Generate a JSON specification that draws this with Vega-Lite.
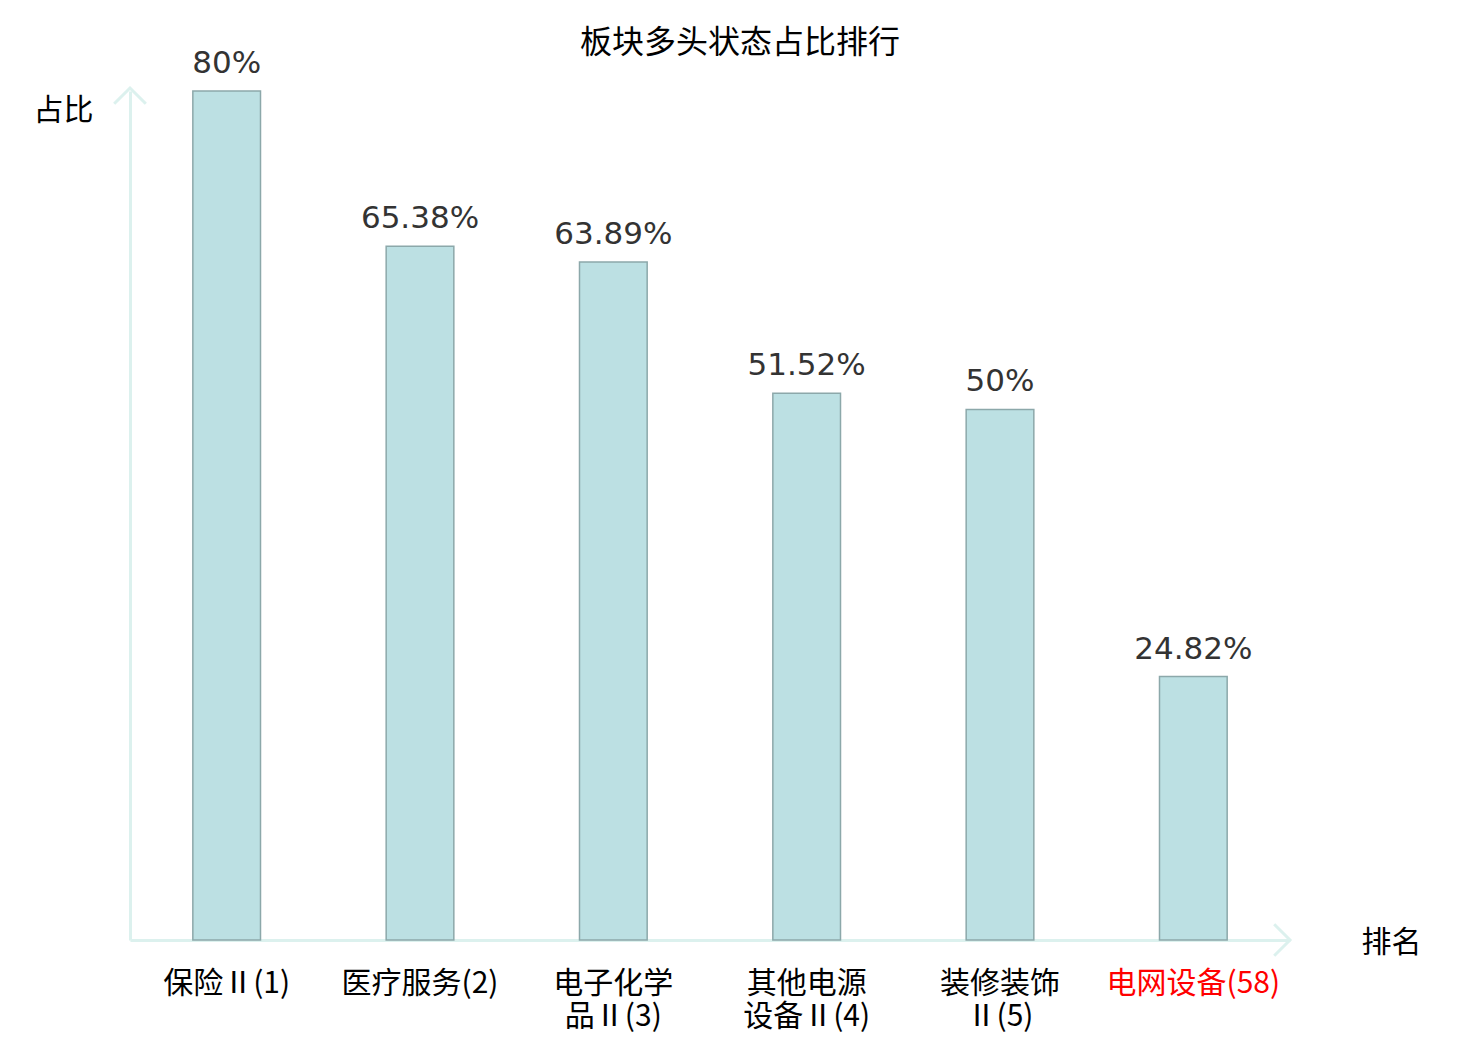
{
  "$schema": "https://vega.github.io/schema/vega-lite/v6.json",
  "autosize": "none",
  "width": 1160,
  "height": 849,
  "padding": {"left": 130, "top": 91, "right": 190, "bottom": 100},
  "background": "white",
  "view": {"stroke": null},
  "title": {
    "text": "板块多头状态占比排行",
    "font": "Noto Sans CJK SC",
    "fontSize": 32,
    "fontWeight": "normal",
    "color": "#000000",
    "anchor": "middle",
    "frame": "group",
    "dx": 30,
    "dy": 44,
    "offset": 32
  },
  "data": {
    "values": [
      {"name": "保险Ⅱ(1)", "ratio": 80, "text": "80%"},
      {"name": "医疗服务(2)", "ratio": 65.38, "text": "65.38%"},
      {"name": "电子化学品Ⅱ(3)", "ratio": 63.89, "text": "63.89%"},
      {"name": "其他电源设备Ⅱ(4)", "ratio": 51.52, "text": "51.52%"},
      {"name": "装修装饰Ⅱ(5)", "ratio": 50, "text": "50%"},
      {"name": "电网设备(58)", "ratio": 24.82, "text": "24.82%"}
    ]
  },
  "encoding": {
    "x": {
      "field": "name",
      "type": "nominal",
      "sort": null,
      "scale": {"paddingInner": 0.65, "paddingOuter": 0.325},
      "axis": {
        "title": "排名",
        "titleFont": "Noto Sans CJK SC",
        "titleFontSize": 30,
        "titleFontWeight": "normal",
        "titleColor": "#000000",
        "titleX": 1261,
        "titleY": 2,
        "titleAlign": "center",
        "titleBaseline": "middle",
        "labelAngle": 0,
        "labelFont": "Noto Sans CJK SC",
        "labelFontSize": 30,
        "labelLineHeight": 33,
        "labelPadding": 28,
        "labelBaseline": "top",
        "labelColor": {"condition": {"test": "datum.value == '电网设备(58)'", "value": "#ff0000"}, "value": "#000000"},
        "labelExpr": "length(datum.label) > 7 && indexof(datum.label, 'Ⅱ') >= 0 ? [substring(datum.label, 0, 4), substring(datum.label, 4)] : datum.label",
        "ticks": false,
        "domainColor": "#dcf1ee",
        "domainWidth": 3,
        "grid": false
      }
    },
    "y": {
      "field": "ratio",
      "type": "quantitative",
      "scale": {"domain": [0, 80], "nice": false},
      "axis": {
        "title": "占比",
        "titleFont": "Noto Sans CJK SC",
        "titleFontSize": 30,
        "titleFontWeight": "normal",
        "titleColor": "#000000",
        "titleAngle": 0,
        "titleX": -67,
        "titleY": 19,
        "titleAlign": "center",
        "titleBaseline": "middle",
        "labels": false,
        "ticks": false,
        "grid": false,
        "domainColor": "#dcf1ee",
        "domainWidth": 3
      }
    }
  },
  "layer": [
    {
      "mark": {"type": "bar", "fill": "#bce0e3", "stroke": "#8ca8aa", "strokeWidth": 1.5}
    },
    {
      "mark": {"type": "text", "font": "DejaVu Sans", "fontSize": 31, "color": "#333333", "baseline": "alphabetic", "dy": -18},
      "encoding": {"text": {"field": "text"}}
    },
    {
      "data": {"values": [{"axis": "x"}]},
      "mark": {"type": "point", "shape": "M-1,-1L0,0L-1,1", "filled": false, "stroke": "#dcf1ee", "strokeWidth": 3, "opacity": 1, "size": 1000, "clip": false},
      "encoding": {"x": {"value": "width"}, "y": {"value": "height"}}
    },
    {
      "data": {"values": [{"axis": "y"}]},
      "mark": {"type": "point", "shape": "M-1,1L0,0L1,1", "filled": false, "stroke": "#dcf1ee", "strokeWidth": 3, "opacity": 1, "size": 1000, "clip": false},
      "encoding": {"x": {"value": 0}, "y": {"value": -3}}
    }
  ]
}
